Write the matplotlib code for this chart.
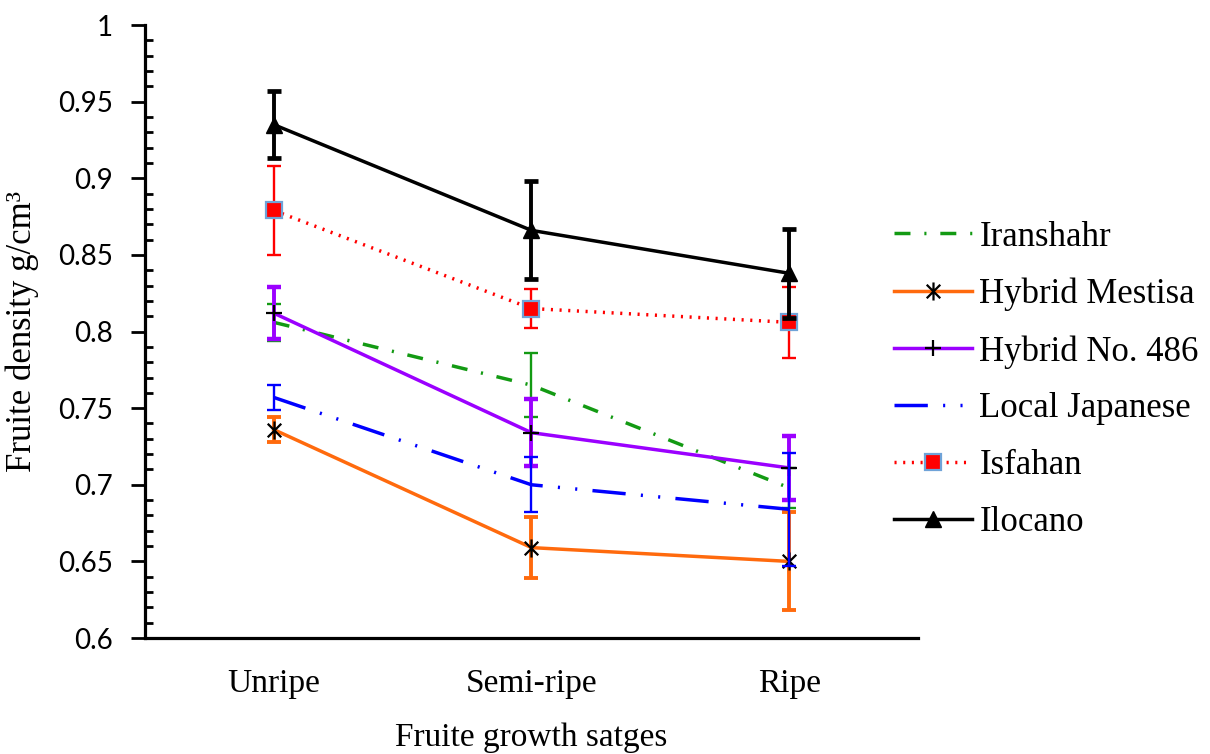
import matplotlib
matplotlib.use("Agg")
import matplotlib.pyplot as plt
import numpy as np
from matplotlib.path import Path
from matplotlib.ticker import MultipleLocator

stages = ["Unripe", "Semi-ripe", "Ripe"]

iranshahr = [0.806, 0.765, 0.698]
iranshahr_err = [0.012, 0.021, 0.013]
mestisa = [0.736, 0.659, 0.650]
mestisa_err = [0.008, 0.020, 0.032]
no486 = [0.812, 0.734, 0.711]
no486_err = [0.017, 0.022, 0.021]
japanese = [0.757, 0.700, 0.684]
japanese_err = [0.008, 0.018, 0.037]
isfahan = [0.879, 0.815, 0.806]
isfahan_err = [0.029, 0.013, 0.023]
ilocano = [0.935, 0.866, 0.838]
ilocano_err = [0.022, 0.032, 0.029]

serif = "Liberation Serif"
x = np.arange(len(stages))

# Excel-like star marker: x plus a vertical bar
star = Path([(0, -1), (0, 1), (-0.75, -0.75), (0.75, 0.75), (-0.75, 0.75), (0.75, -0.75)],
            [Path.MOVETO, Path.LINETO, Path.MOVETO, Path.LINETO, Path.MOVETO, Path.LINETO])

fig = plt.figure(figsize=(12.1, 7.54), dpi=100)
ax = fig.add_axes([0.1198, 0.1538, 0.6389, 0.813])

lw = 2.5
series = [
    ("Iranshahr", iranshahr, iranshahr_err, "#139a13", dict(dashes=(4.6, 4.0, 0.6, 4.0)), dict(marker="None"), 1.7, 1.7),
    ("Hybrid Mestisa", mestisa, mestisa_err, "#ff6a0d", dict(linestyle="-"),
     dict(marker=star, markersize=13, markeredgecolor="black", markerfacecolor="none", markeredgewidth=1.6), 2.8, 2.8),
    ("Hybrid No. 486", no486, no486_err, "#9b00ff", dict(linestyle="-"),
     dict(marker="+", markersize=12, markeredgecolor="black", markeredgewidth=1.6), 2.8, 3.2),
    ("Local Japanese", japanese, japanese_err, "#0000ff", dict(dashes=(9.6, 4.4, 0.6, 4.4, 0.6, 4.4)), dict(marker="None"), 1.7, 1.7),
    ("Isfahan", isfahan, isfahan_err, "#ff0000", dict(dashes=(0.6, 1.9)),
     dict(marker="s", markersize=12, markerfacecolor="#ff0000", markeredgecolor="#6fa3d8", markeredgewidth=1.6), 1.7, 1.7),
    ("Ilocano", ilocano, ilocano_err, "black", dict(linestyle="-"),
     dict(marker="^", markersize=11, markerfacecolor="black", markeredgecolor="black"), 2.8, 3.4),
]

handles = []
for i, (name, vals, errs, color, ls, mk, elw, cth) in enumerate(series):
    ax.errorbar(x, vals, yerr=errs, fmt="none", ecolor=color, elinewidth=elw,
                capsize=5, capthick=cth, zorder=2 + i)
    line, = ax.plot(x, vals, color=color, linewidth=lw, label=name, zorder=3 + i, **ls, **mk)
    handles.append(line)

ax.set_xlim(-0.5, 2.5)
ax.set_ylim(0.6, 1.0)
ax.yaxis.set_minor_locator(MultipleLocator(0.01))
ax.set_yticks([0.6, 0.65, 0.7, 0.75, 0.8, 0.85, 0.9, 0.95, 1.0])
ax.set_yticklabels(["0.6", "0.65", "0.7", "0.75", "0.8", "0.85", "0.9", "0.95", "1"],
                   fontfamily="Lato", fontsize=20)
ax.set_xticks(x)
ax.set_xticklabels(stages, fontfamily=serif, fontsize=24)

for side in ["top", "right"]:
    ax.spines[side].set_visible(False)
for side in ["left", "bottom"]:
    ax.spines[side].set_linewidth(2.3)

ax.tick_params(axis="y", which="major", direction="out", length=10, width=2, pad=13)
ax.tick_params(axis="y", which="minor", direction="in", length=6, width=2)
ax.tick_params(axis="x", length=0, pad=22)

ax.set_ylabel("Fruite density g/cm³", fontfamily=serif, fontsize=25, labelpad=14)
ax.set_xlabel("Fruite growth satges", fontfamily=serif, fontsize=24, labelpad=17)

fig.legend(handles=handles, loc="center left", bbox_to_anchor=(0.739, 0.496),
           frameon=False, prop={"family": serif, "size": 25}, handlelength=2.25,
           handletextpad=0.2, labelspacing=0.69, borderpad=0, borderaxespad=0)

fig.savefig("out.png", dpi=100)
